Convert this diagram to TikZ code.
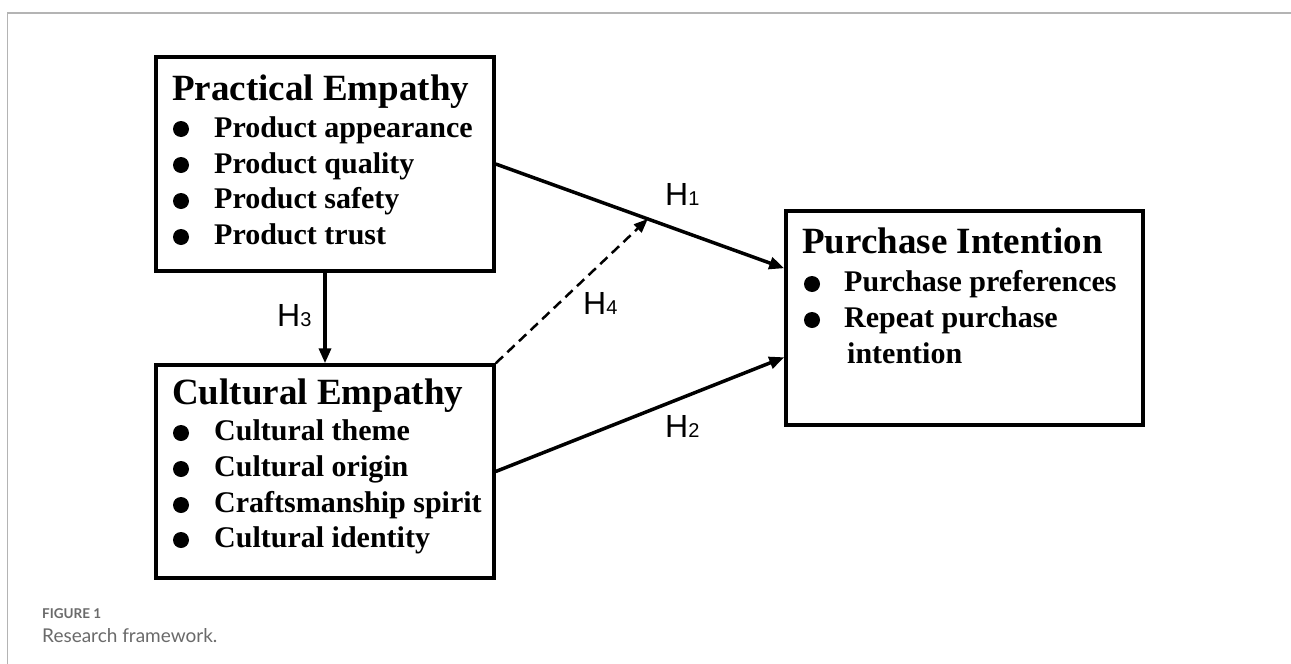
\documentclass[tikz,border=0pt]{standalone}
\usepackage{fontspec}
\setmainfont{Liberation Serif}
\newfontfamily\hfont{Liberation Sans}
\newfontfamily\capfont{Lato}
\usetikzlibrary{arrows.meta,calc}
\definecolor{framegray}{HTML}{B4B4B4}
\definecolor{capgray}{HTML}{6A6A6A}
\begin{document}
\begin{tikzpicture}[x=1pt,y=-1pt,
  boxnode/.style={draw,line width=3.5pt,inner sep=0pt,fill=white},
  titletext/.style={anchor=base west,inner sep=0pt,font=\fontsize{37}{40}\selectfont\bfseries},
  itemtext/.style={anchor=base west,inner sep=0pt,font=\fontsize{30}{34}\selectfont\bfseries},
  bulletdot/.style={circle,fill=black,inner sep=0pt,minimum size=16pt},
  hlabel/.style={anchor=base west,inner sep=0pt,font=\hfont\fontsize{32}{34}\selectfont},
  conn/.style={line width=3.5pt,-{Triangle[length=15pt,width=12pt]}},
  dconn/.style={line width=2.5pt,dash pattern=on 10pt off 6pt,-{Triangle[length=14pt,width=11pt]}}
]
\useasboundingbox (0,0) rectangle (1291,664);
\fill[white] (0,0) rectangle (1291,664);
% frame
\draw[framegray,line width=1.5pt] (7,13) -- (1291,13);
\draw[framegray,line width=1pt] (7,13) -- (7,664);

% boxes
\node[boxnode,minimum width=338pt,minimum height=214pt] (pe) at (325,164) {};
\node[boxnode,minimum width=338pt,minimum height=213pt] (ce) at (325,471.5) {};
\node[boxnode,minimum width=357pt,minimum height=214pt] (pi) at (964.5,318) {};

% Practical Empathy
\node[titletext] (pet) at (172,100) {Practical Empathy};
\node[bulletdot] (peb1) at (181,129) {};
\node[bulletdot] (peb2) at (181,165) {};
\node[bulletdot] (peb3) at (181,201) {};
\node[bulletdot] (peb4) at (181,237) {};
\node[itemtext] (pei1) at (214,137) {Product appearance};
\node[itemtext] (pei2) at (214,173) {Product quality};
\node[itemtext] (pei3) at (214,208) {Product safety};
\node[itemtext] (pei4) at (214,244) {Product trust};

% Cultural Empathy
\node[titletext] (cet) at (172,404) {Cultural Empathy};
\node[bulletdot] (ceb1) at (181,433) {};
\node[bulletdot] (ceb2) at (181,469) {};
\node[bulletdot] (ceb3) at (181,505) {};
\node[bulletdot] (ceb4) at (181,540) {};
\node[itemtext] (cei1) at (214,440) {Cultural theme};
\node[itemtext] (cei2) at (214,476) {Cultural origin};
\node[itemtext] (cei3) at (214,512) {Craftsmanship spirit};
\node[itemtext] (cei4) at (214,547) {Cultural identity};

% Purchase Intention
\node[titletext] (pit) at (802,253) {Purchase Intention};
\node[bulletdot] (pib1) at (812,284) {};
\node[bulletdot] (pib2) at (812,320) {};
\node[itemtext] (pii1) at (844,291) {Purchase preferences};
\node[itemtext] (pii2) at (844,327) {Repeat purchase};
\node[itemtext] (pii3) at (847,363) {intention};

% connectors
\coordinate (h1end) at ($(pi.north west)+(0,59)$);
\coordinate (h2end) at ($(pi.north west)+(0,148)$);
\coordinate (h4end) at ($(pe.east)!0.527!(h1end)$);
\draw[conn] (pe.east) -- (h1end);
\draw[conn] (ce.east) -- (h2end);
\draw[conn] (pe.south) -- (ce.north);
\draw[dconn] (ce.north east) -- (h4end);

% labels
\node[hlabel] (lh1) at (665,205) {H{\fontsize{20}{22}\selectfont 1}};
\node[hlabel] (lh2) at (665,437) {H{\fontsize{20}{22}\selectfont 2}};
\node[hlabel] (lh3) at (277,326) {H{\fontsize{20}{22}\selectfont 3}};
\node[hlabel] (lh4) at (583,314) {H{\fontsize{20}{22}\selectfont 4}};

% caption
\node[anchor=base west,inner sep=0pt,text=capgray,font=\capfont\bfseries\fontsize{13.5}{16}\selectfont] (figlabel) at (42,618) {FIGURE 1};
\node[anchor=base west,inner sep=0pt,text=capgray,font=\capfont\fontsize{19}{22}\selectfont] (figcap) at (42,642) {Research framework.};
\end{tikzpicture}
\end{document}
